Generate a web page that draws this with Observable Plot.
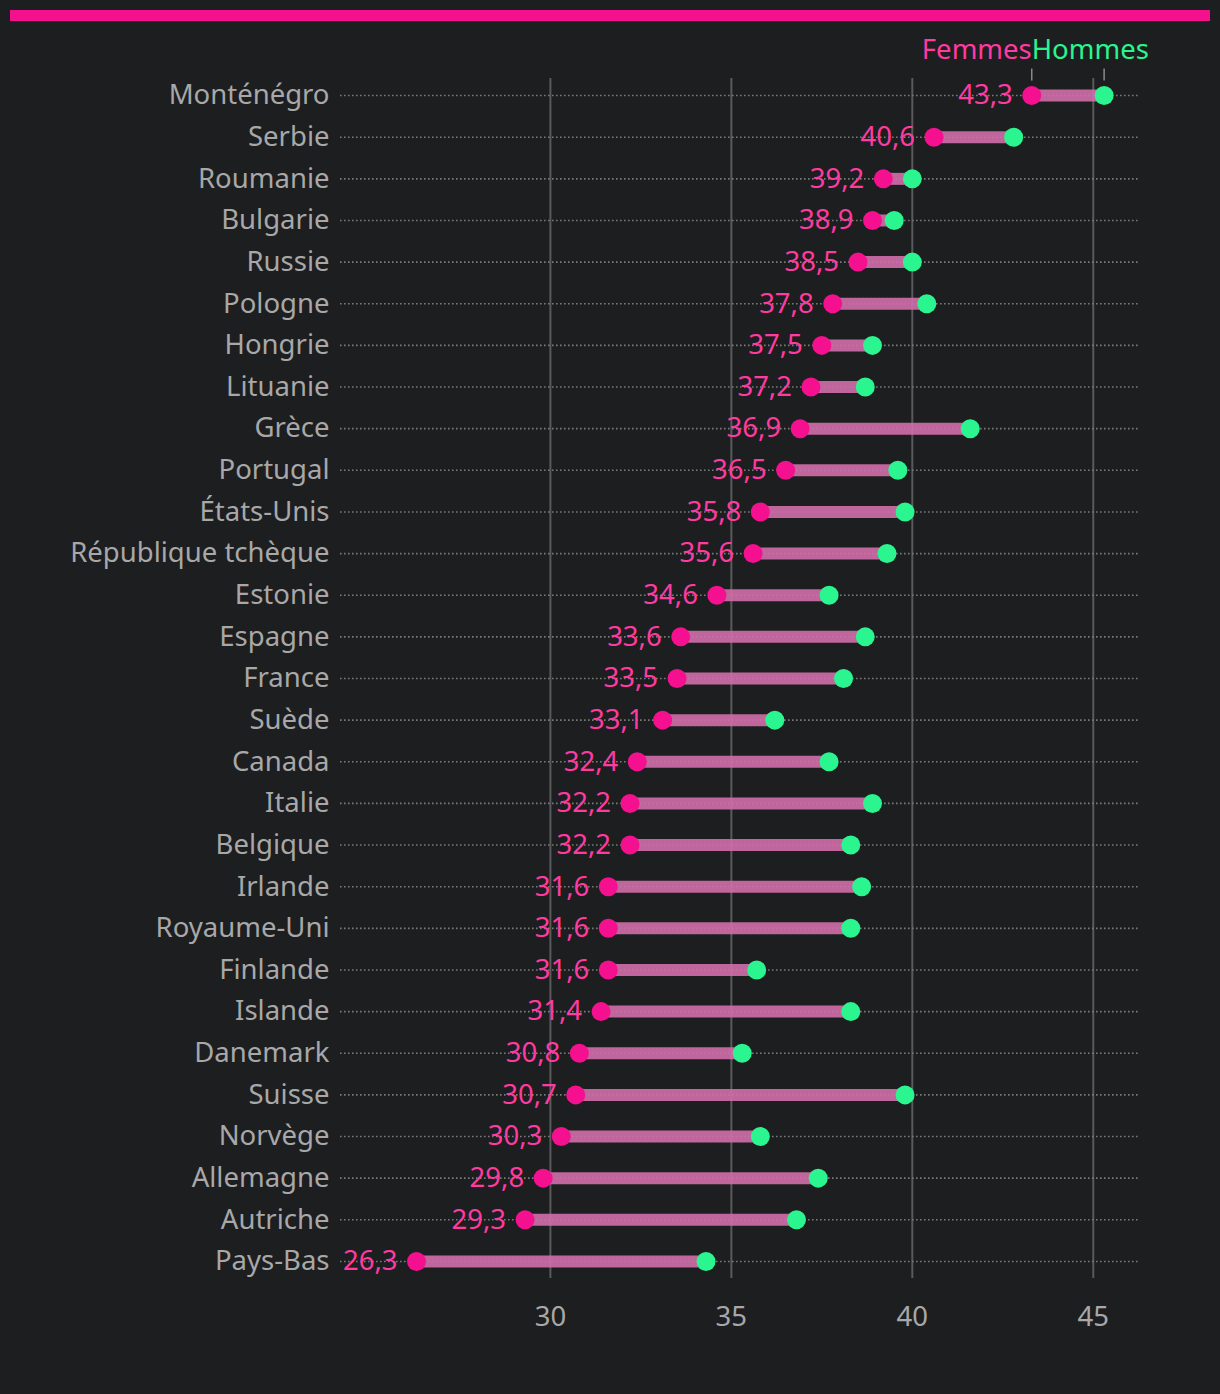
<!DOCTYPE html>
<html>
<head>
<meta charset="utf-8">
<script src="https://cdn.jsdelivr.net/npm/d3@7"></script>
<script src="https://cdn.jsdelivr.net/npm/@observablehq/plot@0.6"></script>
<style>
  html, body { margin: 0; padding: 0; background: #1d1e20; }
  #wrap { position: relative; width: 1220px; height: 1394px; background: #1d1e20; }
  #topbar { position: absolute; left: 10px; top: 10px; width: 1200px; height: 11px; background: #f5108f; }
  #chart { position: absolute; left: 0; top: 0; }
  #chart svg { font-family: "Noto Sans", Lato, sans-serif; }
</style>
</head>
<body>
<div id="wrap"><div id="chart"></div><div id="topbar"></div></div>
<script>
const countries = ["Monténégro","Serbie","Roumanie","Bulgarie","Russie","Pologne","Hongrie","Lituanie","Grèce","Portugal","États-Unis","République tchèque","Estonie","Espagne","France","Suède","Canada","Italie","Belgique","Irlande","Royaume-Uni","Finlande","Islande","Danemark","Suisse","Norvège","Allemagne","Autriche","Pays-Bas"];
const femmes = [43.3,40.6,39.2,38.9,38.5,37.8,37.5,37.2,36.9,36.5,35.8,35.6,34.6,33.6,33.5,33.1,32.4,32.2,32.2,31.6,31.6,31.6,31.4,30.8,30.7,30.3,29.8,29.3,26.3];
const hommes = [45.3,42.8,40.0,39.5,40.0,40.4,38.9,38.7,41.6,39.6,39.8,39.3,37.7,38.7,38.1,36.2,37.7,38.9,38.3,38.6,38.3,35.7,38.3,35.3,39.8,35.8,37.4,36.8,34.3];
const xTicks = [30, 35, 40, 45];
const seriesNames = ["Femmes", "Hommes"];

const data = countries.map((c, i) => ({country: c, f: femmes[i], h: hommes[i]}));
const first = [data[0]];

const PINK = "#f5108f", GREEN = "#2af58f", LABEL = "#ff3aa0", GREY = "#a8a8a8";
const FS = 27.5;
const fmt = v => v.toFixed(1).replace(".", ",");
const vline = {draw(ctx) { ctx.moveTo(0, -6); ctx.lineTo(0, 6); }};

const chart = Plot.plot({
  width: 1220,
  height: 1394,
  marginTop: 78,
  marginBottom: 116,
  marginLeft: 340,
  marginRight: 82,
  style: {background: "transparent", color: GREY, fontSize: FS + "px", fontFamily: "'Noto Sans', Lato, sans-serif"},
  x: {domain: [24.2, 46.25], ticks: xTicks, tickSize: 0, tickPadding: 28, label: null},
  y: {type: "point", domain: countries, padding: 0.41, round: false, tickSize: 0, tickPadding: 11, label: null},
  marks: [
    Plot.gridX(xTicks, {stroke: "#5a5a5c", strokeOpacity: 1, strokeWidth: 2}),
    Plot.ruleY(countries, {y: d => d, stroke: "#7a7a7a", strokeWidth: 1.6, strokeDasharray: "1.6,2.4"}),
    Plot.ruleY(data, {y: "country", x1: "f", x2: "h", stroke: "#d16eaa", strokeOpacity: 0.9, strokeWidth: 12}),
    Plot.dot(data, {y: "country", x: "h", r: 9.5, fill: GREEN}),
    Plot.dot(data, {y: "country", x: "f", r: 9.5, fill: PINK}),
    Plot.text(data, {y: "country", x: "f", text: d => fmt(d.f), textAnchor: "end", dx: -19, fill: LABEL, fontSize: FS}),
    Plot.dot(first, {x: "f", y: "country", symbol: vline, stroke: "#8a8a8a", strokeWidth: 1.5, fill: "none", dy: -21}),
    Plot.dot(first, {x: "h", y: "country", symbol: vline, stroke: "#8a8a8a", strokeWidth: 1.5, fill: "none", dy: -21}),
    Plot.text(first, {y: "country", x: "f", text: () => seriesNames[0], textAnchor: "end", dy: -45, fill: LABEL, fontSize: FS}),
    Plot.text(first, {y: "country", x: "f", text: () => seriesNames[1], textAnchor: "start", dy: -45, fill: GREEN, fontSize: FS}),
    Plot.axisX({ticks: xTicks, tickSize: 0, tickPadding: 28, fill: GREY, fontSize: FS, label: null}),
    Plot.axisY({tickSize: 0, tickPadding: 11, fill: GREY, fontSize: FS, label: null})
  ]
});
document.getElementById("chart").appendChild(chart);
</script>
</body>
</html>
